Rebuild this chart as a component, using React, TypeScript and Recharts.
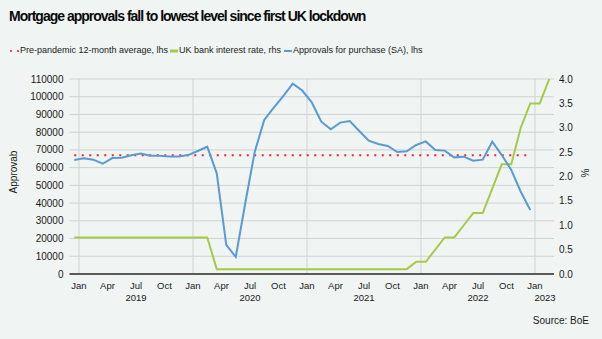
import { CartesianGrid, ComposedChart, Line, ReferenceLine, XAxis, YAxis } from 'recharts';

// monthly series, first point Dec 2018
const startYear = 2018;
const startMonth = 11; // 0-based, December

const approvals = [
  64300,
  65250, 64500, 62200, 65400, 65600, 66950, 68000, 66700, 66700, 66350, 66350, 67100,
  69400, 71800, 56800, 16400, 9600, 39900, 69000, 86900, 93800, 100400, 107400, 103500,
  96800, 85900, 81600, 85400, 86300, 80700, 75200, 73300, 72200, 68800, 69200, 72800,
  74800, 69900, 69600, 65800, 66200, 63900, 64500, 74600, 67100, 58700, 46400, 36100
];

const bankRate = [
  0.75,
  0.75, 0.75, 0.75, 0.75, 0.75, 0.75, 0.75, 0.75, 0.75, 0.75, 0.75, 0.75,
  0.75, 0.75, 0.1, 0.1, 0.1, 0.1, 0.1, 0.1, 0.1, 0.1, 0.1, 0.1,
  0.1, 0.1, 0.1, 0.1, 0.1, 0.1, 0.1, 0.1, 0.1, 0.1, 0.1, 0.25,
  0.25, 0.5, 0.75, 0.75, 1.0, 1.25, 1.25, 1.75, 2.25, 2.25, 3.0, 3.5,
  3.5, 4.0
];

const prePandemicAvg = 67000;

const leftTicks = [0, 10000, 20000, 30000, 40000, 50000, 60000, 70000, 80000, 90000, 100000, 110000];
const rightTicks = [0, 0.5, 1, 1.5, 2, 2.5, 3, 3.5, 4];
const monthNames = ['Jan', 'Apr', 'Jul', 'Oct'];
const yearLabels = ['2019', '2020', '2021', '2022', '2023'];

// x value: months since Jan 2019, points sit mid-month
const data = bankRate.map((rate, i) => {
  const m = (startYear - 2019) * 12 + startMonth + i;
  return {
    t: m + 0.5,
    rate,
    approvals: i < approvals.length ? approvals[i] : null,
    avg: i < approvals.length ? prePandemicAvg : null
  };
});

const xTicks = [0, 3, 6, 9, 12, 15, 18, 21, 24, 27, 30, 33, 36, 39, 42, 45, 48];
const yearLines = [0, 12, 24, 36, 48];

const FONT = '"Liberation Sans", Arial, sans-serif';
const BG = '#f0f4f3';
const BLUE = '#5a9ad2';
const GREEN = '#a6ca48';
const RED = '#f5222d';

function MonthTick(props: any) {
  const { x, y, payload } = props;
  const t = payload.value as number;
  const mi = ((t % 12) + 12) % 12;
  const yi = Math.floor(t / 12);
  const last = yi === yearLabels.length - 1;
  return (
    <g>
      <text x={x} y={y + 13} textAnchor="middle" fontSize={9.5} fill="#1a1a1a" fontFamily={FONT}>
        {monthNames[mi / 3]}
      </text>
      {(mi === 6 || (last && mi === 0)) && (
        <text x={last ? x + 10 : x} y={y + 25} textAnchor="middle" fontSize={9.5} fill="#1a1a1a" fontFamily={FONT}>
          {yearLabels[yi]}
        </text>
      )}
    </g>
  );
}

export default function App() {
  return (
    <div style={{ position: 'relative', width: 602, height: 339, background: BG, fontFamily: FONT, overflow: 'hidden' }}>
      <style>{'body{margin:0}'}</style>
      <div style={{ position: 'absolute', left: 9, top: 8, fontSize: 14, fontWeight: 'bold', letterSpacing: -1, color: '#0a0a0a', whiteSpace: 'nowrap' }}>
        Mortgage approvals fall to lowest level since first UK lockdown
      </div>
      <div style={{ position: 'absolute', left: 0, top: 45, fontSize: 9, color: '#1a1a1a', whiteSpace: 'nowrap' }}>
        <svg width={602} height={14} style={{ position: 'absolute', left: 0, top: 0 }}>
          <circle cx={11} cy={6} r={1.1} fill={RED} />
          <circle cx={18} cy={6} r={1.1} fill={RED} />
          <line x1={170} x2={178} y1={6} y2={6} stroke={GREEN} strokeWidth={3} />
          <line x1={284} x2={292} y1={6} y2={6} stroke={BLUE} strokeWidth={2} />
        </svg>
        <span style={{ position: 'absolute', left: 20, top: 0 }}>Pre-pandemic 12-month average, lhs</span>
        <span style={{ position: 'absolute', left: 179, top: 0 }}>UK bank interest rate, rhs</span>
        <span style={{ position: 'absolute', left: 293, top: 0 }}>Approvals for purchase (SA), lhs</span>
      </div>
      <div style={{ position: 'absolute', top: 172, left: 13, transform: 'translate(-50%, -50%) rotate(-90deg)', fontSize: 10, color: '#1a1a1a', whiteSpace: 'nowrap' }}>
        Approvab
      </div>
      <div style={{ position: 'absolute', top: 173, left: 585, transform: 'translate(-50%, -50%) rotate(-90deg)', fontSize: 10, color: '#1a1a1a' }}>
        %
      </div>
      <div style={{ position: 'absolute', right: 13, top: 315, fontSize: 10, color: '#1a1a1a' }}>Source: BoE</div>
      <div style={{ position: 'absolute', left: 0, top: 0 }}>
        <ComposedChart width={602} height={339} data={data} margin={{ top: 79, right: 8, bottom: 35, left: 0 }}>
          <CartesianGrid yAxisId="left" vertical={false} stroke="#cfd3d2" />
          {yearLines.map((v) => (
            <ReferenceLine key={v} x={v} yAxisId="left" stroke="#cfd3d2" />
          ))}
          <XAxis
            dataKey="t"
            type="number"
            height={30}
            domain={[-1, 50]}
            ticks={xTicks}
            allowDataOverflow
            tickLine={false}
            tickSize={0}
            axisLine={{ stroke: '#5a5a5a', strokeWidth: 2 }}
            tick={<MonthTick />}
            interval={0}
          />
          <YAxis
            yAxisId="left"
            width={69.5}
            domain={[0, 110000]}
            ticks={leftTicks}
            tickLine={false}
            tickSize={0}
            tickMargin={6}
            axisLine={false}
            tick={{ fill: '#1a1a1a', fontSize: 10, fontFamily: FONT }}
            interval={0}
          />
          <YAxis
            yAxisId="right"
            orientation="right"
            width={40}
            domain={[0, 4]}
            ticks={rightTicks}
            tickFormatter={(v: number) => v.toFixed(1)}
            tickLine={false}
            tickSize={0}
            tickMargin={5}
            axisLine={false}
            tick={{ fill: '#1a1a1a', fontSize: 10, fontFamily: FONT, textAnchor: 'start' }}
            interval={0}
          />
          <Line yAxisId="left" dataKey="avg" stroke={RED} strokeWidth={2} strokeDasharray="2 5.5" dot={false} isAnimationActive={false} />
          <Line yAxisId="right" dataKey="rate" stroke={GREEN} strokeWidth={2} dot={false} isAnimationActive={false} />
          <Line yAxisId="left" dataKey="approvals" stroke={BLUE} strokeWidth={2} dot={false} isAnimationActive={false} />
        </ComposedChart>
      </div>
    </div>
  );
}
